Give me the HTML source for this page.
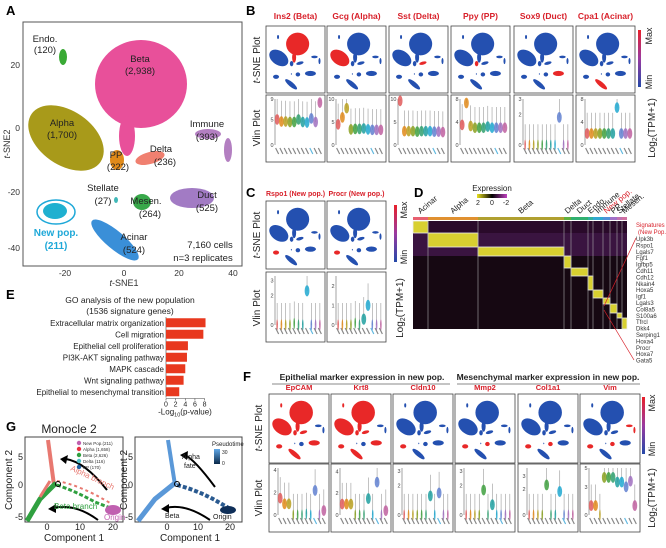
<!DOCTYPE html>
<html><head><meta charset="utf-8">
<style>
html,body{margin:0;padding:0;background:#fff;}
svg{display:block;font-family:"Liberation Sans",Arial,sans-serif;}
</style></head>
<body>
<svg id="fig" width="666" height="548" viewBox="0 0 666 548" xmlns="http://www.w3.org/2000/svg">
<defs>
<linearGradient id="cbar" x1="0" y1="1" x2="0" y2="0">
<stop offset="0" stop-color="#2448a8"/><stop offset="0.5" stop-color="#9a3aa0"/><stop offset="1" stop-color="#e8202a"/>
</linearGradient>
<linearGradient id="expr" x1="0" y1="0" x2="1" y2="0">
<stop offset="0" stop-color="#e8e020"/><stop offset="0.5" stop-color="#000"/><stop offset="1" stop-color="#c040c0"/>
</linearGradient>
<linearGradient id="ptime" x1="0" y1="1" x2="0" y2="0">
<stop offset="0" stop-color="#0a2848"/><stop offset="1" stop-color="#60a8e8"/>
</linearGradient>
</defs>

<g font-weight="bold" font-size="13" fill="#000">
<text x="6" y="15">A</text>
<text x="246" y="15">B</text>
<text x="246" y="197">C</text>
<text x="414" y="197">D</text>
<text x="6" y="299">E</text>
<text x="6" y="431">G</text>
<text x="243" y="381">F</text>
</g>

<g id="panelA">
<rect x="23" y="22" width="219" height="244" fill="none" stroke="#555" stroke-width="1"/>
<g id="aClusters"></g>
<g font-size="9.5" fill="#222" text-anchor="middle">
<text x="45" y="42">Endo.</text><text x="45" y="53">(120)</text>
<text x="140" y="62">Beta</text><text x="140" y="74">(2,938)</text>
<text x="62" y="126">Alpha</text><text x="62" y="138">(1,700)</text>
<text x="207" y="127">Immune</text><text x="207" y="140">(393)</text>
<text x="161" y="152">Delta</text><text x="165" y="165">(236)</text>
<text x="116" y="158">PP</text><text x="118" y="170">(222)</text>
<text x="103" y="191">Stellate</text><text x="103" y="204">(27)</text>
<text x="146" y="204">Mesen.</text><text x="150" y="217">(264)</text>
<text x="207" y="198">Duct</text><text x="207" y="211">(525)</text>
<text x="134" y="240">Acinar</text><text x="134" y="253">(524)</text>
<text x="210" y="248">7,160 cells</text><text x="203" y="261">n=3 replicates</text>
</g>
<ellipse cx="56" cy="212" rx="19" ry="12" fill="none" stroke="#1ea8d8" stroke-width="1.5"/>
<text x="56" y="236" font-size="10" font-weight="bold" fill="#1ea8d8" text-anchor="middle">New pop.</text>
<text x="56" y="249" font-size="10" font-weight="bold" fill="#1ea8d8" text-anchor="middle">(211)</text>
<g font-size="8.5" fill="#333" text-anchor="middle">
<text x="65" y="276">-20</text><text x="124" y="276">0</text><text x="179" y="276">20</text><text x="233" y="276">40</text>
</g>
<g font-size="8.5" fill="#333" text-anchor="end">
<text x="20" y="68">20</text><text x="20" y="131">0</text><text x="20" y="195">-20</text><text x="20" y="251">-40</text>
</g>
<text x="124" y="286" font-size="9" text-anchor="middle" fill="#333"><tspan font-style="italic">t</tspan>-SNE1</text>
<text transform="translate(10,144) rotate(-90)" font-size="9" text-anchor="middle" fill="#333"><tspan font-style="italic">t</tspan>-SNE2</text>
</g>

<g id="panelB"></g>
<g id="panelC"></g>
<g id="panelF"></g>

<g font-size="10" fill="#222" text-anchor="middle">
<text transform="translate(260,60) rotate(-90)"><tspan font-style="italic">t</tspan>-SNE Plot</text>
<text transform="translate(260,128) rotate(-90)">Vlin Plot</text>
<text transform="translate(260,235) rotate(-90)"><tspan font-style="italic">t</tspan>-SNE Plot</text>
<text transform="translate(260,308) rotate(-90)">Vlin Plot</text>
<text transform="translate(262,428) rotate(-90)"><tspan font-style="italic">t</tspan>-SNE Plot</text>
<text transform="translate(262,498) rotate(-90)">Vlin Plot</text>
<text transform="translate(655,128) rotate(-90)">Log<tspan font-size="7" dy="2">2</tspan><tspan dy="-2">(TPM+1)</tspan></text>
<text transform="translate(403,308) rotate(-90)">Log<tspan font-size="7" dy="2">2</tspan><tspan dy="-2">(TPM+1)</tspan></text>
<text transform="translate(655,498) rotate(-90)">Log<tspan font-size="7" dy="2">2</tspan><tspan dy="-2">(TPM+1)</tspan></text>
</g>
<g>
<rect x="638" y="30" width="3" height="57" fill="url(#cbar)"/>
<rect x="394" y="205" width="3" height="57" fill="url(#cbar)"/>
<rect x="642" y="397" width="3" height="57" fill="url(#cbar)"/>
<g font-size="9" fill="#222" text-anchor="middle">
<text transform="translate(652,36) rotate(-90)">Max</text><text transform="translate(652,82) rotate(-90)">Min</text>
<text transform="translate(407,210) rotate(-90)">Max</text><text transform="translate(407,257) rotate(-90)">Min</text>
<text transform="translate(655,403) rotate(-90)">Max</text><text transform="translate(655,449) rotate(-90)">Min</text>
</g>
</g>

<g id="panelD">
<text x="492" y="191" font-size="8" text-anchor="middle" fill="#222">Expression</text>
<rect x="477" y="194" width="30" height="4" fill="url(#expr)"/>
<g font-size="7" fill="#222" text-anchor="middle"><text x="478" y="205">2</text><text x="492" y="205">0</text><text x="506" y="205">-2</text></g>
<g id="dHeat"></g>
</g>

<g id="panelE">
<text x="130" y="303" font-size="8.5" text-anchor="middle" fill="#222">GO analysis of the new population</text>
<text x="130" y="314" font-size="8.5" text-anchor="middle" fill="#222">(1536 signature genes)</text>
<g id="eBars"></g>
</g>

<g id="panelG">
<text x="69" y="433" font-size="12" text-anchor="middle" fill="#222">Monocle 2</text>
<g transform="translate(0,13)">
<rect x="25" y="424" width="98" height="85" fill="none" stroke="#444"/>
<rect x="135" y="424" width="107" height="85" fill="none" stroke="#444"/>
<g id="gPlots"></g>
<text transform="translate(12,467) rotate(-90)" font-size="10" text-anchor="middle" fill="#222">Component 2</text>
<text transform="translate(127,467) rotate(-90)" font-size="10" text-anchor="middle" fill="#222">Component 2</text>
<text x="74" y="528" font-size="10" text-anchor="middle" fill="#222">Component 1</text>
<text x="190" y="528" font-size="10" text-anchor="middle" fill="#222">Component 1</text>
</g>
</g>
</svg>

<script>
var NS="http://www.w3.org/2000/svg";
function mk(tag,attrs,parent){var e=document.createElementNS(NS,tag);for(var k in attrs)e.setAttribute(k,attrs[k]);if(parent)parent.appendChild(e);return e;}

var clusterNames=["beta","betaTail","alpha","endo","immune1","immune2","delta","pp","mesen","duct","stellate","newpop","acinar"];
var clusterColors=["#e8509a","#e8509a","#a89a1a","#3aaa35","#b37fc1","#b37fc1","#f08070","#e08a1a","#38a84a","#a27bc4","#40b8b8","#1fb0d0","#3a8fd8"];
var clusterGeom=[[141,84,46,44,0],[127,136,8,20,0],[66,138,42,27,35],[63,57,4,8,0],[208,134,13,5,0],[228,150,4,12,0],[150,158,15,6,-15],[117,160,7,10,0],[142,202,9,8,0],[192,198,22,10,0],[116,200,2,3,0],[55,211,12,8,0],[115,240,30,9,40]];
var aArea={x:23,y:22,w:219,h:244};

function drawClusters(g,box,colorFn){
  var sx=box.w/aArea.w, sy=box.h/aArea.h;
  for(var i=0;i<clusterNames.length;i++){
    var c=clusterGeom[i];
    var cx=box.x+(c[0]-aArea.x)*sx, cy=box.y+(c[1]-aArea.y)*sy;
    var el=mk("ellipse",{cx:cx,cy:cy,rx:c[2]*sx,ry:c[3]*sy,fill:colorFn(i),transform:"rotate("+c[4]+" "+cx+" "+cy+")"},g);
    
    
  }
}
drawClusters(document.getElementById("aClusters"),aArea,function(i){return clusterColors[i];});

var violinColors=["#e05a5a","#e08a1a","#b8a020","#8aa020","#40a040","#30a070","#20a0a0","#20a8d0","#6080d0","#a070c0","#c060a0"];
var bGenes=["Ins2 (Beta)","Gcg (Alpha)","Sst (Delta)","Ppy (PP)","Sox9 (Duct)","Cpa1 (Acinar)"];
var bHighlight=[["beta","betaTail"],["alpha"],["delta"],["pp"],["duct"],["acinar"]];
var bMax=[9,10,10,8,3,8];
var bViolin=[[5,4.6,4.6,4.5,4.5,5,4.5,4.4,5.2,4.5,8.3],[4.5,6,8,3.4,3.5,3.5,3.6,3.4,3.3,3.3,3.3],[9.6,3,3,3,2.9,3,3,3,2.9,2.9,2.8],[3.5,7.3,3.3,3,3,3,3.2,3,3,3,3],[0,0,0,0,0,0,0,0,1.8,0,0],[2,2,2,2,2,2,2,6.5,2,2,2]];
var bBoxesX=[266,327,389,451,514,576];

var cGenes=["Rspo1 (New pop.)","Procr (New pop.)"];
var cMax=[3.3,2.5];
var cViolin=[[0,0,0,0,0.1,0,0,2.3,0,0,0],[0,0,0,0,0.1,0,0.3,1,0,0,0]];
var cBoxesX=[266,327];

var fGenes=["EpCAM","Krt8","Cldn10","Mmp2","Col1a1","Vim"];
var fHigh=[["beta","betaTail","alpha","endo","pp","delta","duct","newpop","acinar"],["beta","betaTail","alpha","endo","pp","delta","duct","newpop","acinar"],["newpop"],["newpop","mesen"],["newpop","mesen"],["newpop","mesen","immune1","immune2"]];
var fMax=[4.2,4.3,3.2,3.2,3.6,5];
var fViolin=[[1.5,1,1,0,0,0,0.1,0,2.2,0,0.4],[1,1,1,0,0,0,1.5,0,3,0,0.4],[0,0,0,0,0,0,1.3,0,1.5,0,0],[0,0,0,0,1.7,0,0.7,0,0,0,0],[0,0,0,0,2.3,0,0,1.8,0,0,0],[1,1,0,4,4,4,3.5,3.5,3,3.6,1]];
var fBoxesX=[269,331,393,455,518,580];

function markerPanel(parent,x,tsY,tsH,vY,vH,w,title,titleY,highlight,maxV,vals,titleSize){
  var t=mk("text",{x:x+w/2,y:titleY,"font-size":titleSize,"font-weight":"bold",fill:"#d8202a","text-anchor":"middle"},parent);
  t.textContent=title;
  
  
  var fr=mk("rect",{x:x,y:tsY,width:w,height:tsH,fill:"#fff",stroke:"#444","stroke-width":0.8},parent);
  
  
  var g=mk("g",{},parent);
  drawClusters(g,{x:x+2,y:tsY+2,w:w-4,h:tsH-4},function(i){return highlight.indexOf(clusterNames[i])>=0?"#e82828":"#2450b0";});
  var vr=mk("rect",{x:x,y:vY,width:w,height:vH,fill:"#fff",stroke:"#444","stroke-width":0.8},parent);
  
  
  var px0=x+9,px1=x+w-3,py0=vY+4,py1=vY+vH-17;
  mk("line",{x1:px0,y1:py0,x2:px0,y2:py1,stroke:"#666","stroke-width":0.6},parent);
  function yS(v){return py1-(v/maxV)*(py1-py0);}
  var ticks=[0,Math.round(maxV/2),Math.floor(maxV)];
  for(var k=0;k<ticks.length;k++){var tt=mk("text",{x:px0-1.5,y:yS(ticks[k])+2,"font-size":5.5,fill:"#444","text-anchor":"end"},parent);tt.textContent=ticks[k];}
  var n=vals.length,step=(px1-px0)/n;
  for(var i=0;i<n;i++){
    var cx=px0+step*(i+0.5),v=vals[i];
    mk("line",{x1:cx,y1:yS(v),x2:cx,y2:yS(Math.min(maxV,v+maxV*0.45)),stroke:"#999","stroke-width":0.6},parent);
    var el=mk("ellipse",{cx:cx,cy:yS(v),rx:v>0.05*maxV?2.4:0.8,ry:Math.max(1.5,vH*0.08),fill:violinColors[i],"fill-opacity":0.85},parent);
    
    
    mk("line",{x1:cx-1.5,y1:py1+3,x2:cx+1.5,y2:py1+9,stroke:i==8?"#60b8e0":"#888","stroke-width":1.2},parent);
  }
}
var pB=document.getElementById("panelB");
for(var i=0;i<bGenes.length;i++){
  markerPanel(pB,bBoxesX[i],26,67,95,67,59,bGenes[i],19,bHighlight[i],bMax[i],bViolin[i],8.5);
}
var pC=document.getElementById("panelC");
for(var i=0;i<cGenes.length;i++) markerPanel(pC,cBoxesX[i],201,68,272,70,59,cGenes[i],196,["newpop"],cMax[i],cViolin[i],7);
var pF=document.getElementById("panelF");
for(var i=0;i<fGenes.length;i++) markerPanel(pF,fBoxesX[i],394,69,464,68,60,fGenes[i],390,fHigh[i],fMax[i],fViolin[i],7.5);
(function(){
 var a=mk("text",{x:362,y:380,"font-size":8.5,"font-weight":"bold",fill:"#222","text-anchor":"middle"},pF);a.textContent="Epithelial marker expression in new pop.";
 var b=mk("text",{x:548,y:380,"font-size":8.5,"font-weight":"bold",fill:"#222","text-anchor":"middle"},pF);b.textContent="Mesenchymal marker expression in new pop.";
 mk("line",{x1:272,y1:384,x2:450,y2:384,stroke:"#888"},pF);mk("line",{x1:457,y1:384,x2:640,y2:384,stroke:"#888"},pF);
})();

var dGroups=["Acinar","Alpha","Beta","Delta","Duct","Endo.","Immune","New pop.","PP","Stellate","Mesen."];
var dGroupColors=["#e86070","#e09030","#b0a030","#60b040","#30b070","#30b0a0","#30a8d0","#5090d8","#a070c8","#c070b0","#d070a0"];
var dColEdges=[413,428,478,564,571,588,593,603,610,617,622,627];
var dRowEdges=[221,233,247,256,268,276,290,298,304,313,318,329];
var dGenes=["Upk3b","Rspo1","Lgals7","Fgf1","Igfbp5","Cdh11","Cdh12","Nkain4","Hoxa5","Igf1","Lgals3","Col8a5","S100a6","Tfrcl","Dkk4","Serping1","Hoxa4","Procr","Hoxa7","Gata5"];
(function(){
 var g=document.getElementById("dHeat");
 var bg=mk("rect",{x:413,y:221,width:214,height:108,fill:"#160812"},g);
 
 
 mk("rect",{x:413,y:221,width:214,height:12,fill:"#2a0a2a"},g);
 mk("rect",{x:413,y:233,width:214,height:23,fill:"#3a1440"},g);
 for(var i=0;i<dGroups.length;i++){
   var x0=dColEdges[i],x1=dColEdges[i+1];
   mk("rect",{x:x0,y:217,width:x1-x0,height:3,fill:dGroupColors[i]},g);
   var c=mk("rect",{x:x0,y:dRowEdges[i],width:x1-x0,height:dRowEdges[i+1]-dRowEdges[i],fill:"#d8d030",stroke:"#eee","stroke-width":0.8},g);
   
   
   if(i>0)mk("line",{x1:x0,y1:221,x2:x0,y2:329,stroke:"#aaa","stroke-width":0.6},g);
   var lx=(x0+x1)/2;
   var tl=mk("text",{x:lx,y:214,"font-size":8,fill:i==7?"#d8202a":"#222",transform:"rotate(-40 "+lx+" 214)"},g);
   tl.textContent=dGroups[i];
 }
 var s1=mk("text",{x:636,y:227,"font-size":6,fill:"#d8202a"},g);s1.textContent="Signatures";
 var s2=mk("text",{x:638,y:234,"font-size":6,fill:"#d8202a"},g);s2.textContent="(New Pop.)";
 for(var k=0;k<dGenes.length;k++){
   var y=241+k*6.4;
   var t=mk("text",{x:636,y:y,"font-size":6,fill:"#333"},g);t.textContent=dGenes[k];
 }
 mk("line",{x1:604,y1:306,x2:636,y2:238,stroke:"#d8202a","stroke-width":0.7},g);
 mk("line",{x1:604,y1:310,x2:634,y2:360,stroke:"#d8202a","stroke-width":0.7},g);
})();

var eTerms=["Extracellular matrix organization","Cell migration","Epithelial cell proliferation","PI3K-AKT signaling pathway","MAPK cascade","Wnt signaling pathway","Epithelial to mesenchymal transition"];
var eValues=[8.2,7.75,4.55,4.35,4.0,3.65,2.75];
var eTicks=[0,2,4,6,8];
(function(){
 var g=document.getElementById("eBars");
 var x0=166,xPer=4.82,yTop=317,rowH=11.5,barH=9;
 function xS(v){return x0+v*xPer;}
 mk("line",{x1:x0,y1:yTop,x2:x0,y2:yTop+rowH*eTerms.length,stroke:"#444","stroke-width":0.6},g);
 for(var i=0;i<eTerms.length;i++){
   var yc=yTop+rowH*(i+0.5);
   var b=mk("rect",{x:x0,y:yc-barH/2,width:xS(eValues[i])-x0,height:barH,fill:"#e8381e"},g);
   
   
   var t=mk("text",{x:x0-2,y:yc+3,"font-size":8,fill:"#222","text-anchor":"end"},g);t.textContent=eTerms[i];
 }
 var ay=yTop+rowH*eTerms.length+1;
 mk("line",{x1:x0,y1:ay,x2:xS(8),y2:ay,stroke:"#444","stroke-width":0.6},g);
 for(var k=0;k<eTicks.length;k++){
   mk("line",{x1:xS(eTicks[k]),y1:ay,x2:xS(eTicks[k]),y2:ay+2,stroke:"#444","stroke-width":0.6},g);
   var t=mk("text",{x:xS(eTicks[k]),y:ay+8,"font-size":7,fill:"#222","text-anchor":"middle"},g);t.textContent=eTicks[k];
 }
 var xl=mk("text",{x:185,y:ay+16,"font-size":8,fill:"#222","text-anchor":"middle"},g);
 var a1=mk("tspan",{},xl);a1.textContent="-Log";
 var a2=mk("tspan",{"font-size":5.5,dy:2},xl);a2.textContent="10";
 var a3=mk("tspan",{dy:-2},xl);a3.textContent="(p-value)";
 
 
})();

var gLegend=["New Pop.(211)","Alpha (1,658)","Beta (2,626)","Delta (116)","PP (170)"];
var gLegendColors=["#c060b0","#e83040","#30a040","#50c0c8","#2060a0"];
(function(){
 var g=document.getElementById("gPlots");
 function yTicks(x0){var tk=[["5",444],["0",472],["-5",504]];for(var i=0;i<3;i++){var t=mk("text",{x:x0-2,y:tk[i][1]+3,"font-size":9,fill:"#222","text-anchor":"end"},g);t.textContent=tk[i][0];}}
 yTicks(25);yTicks(135);
 var xt=[["0",47],["10",80],["20",113],["0",167],["10",198],["20",230]];
 for(var i=0;i<xt.length;i++){var t=mk("text",{x:xt[i][1],y:517,"font-size":9,fill:"#222","text-anchor":"middle"},g);t.textContent=xt[i][0];}
 mk("path",{d:"M48 427 L54 472",stroke:"#e87870","stroke-width":4,fill:"none"},g);
 mk("path",{d:"M27 508 L40 486 L56 470",stroke:"#30a040","stroke-width":5,fill:"none"},g);
 mk("path",{d:"M40 484 L50 468",stroke:"#e87870","stroke-width":3,fill:"none"},g);
 mk("path",{d:"M57 472 Q75 478 95 489 L118 498",stroke:"#30a040","stroke-width":3,fill:"none","stroke-dasharray":"4 2"},g);
 mk("path",{d:"M57 468 Q80 472 110 490",stroke:"#e87870","stroke-width":2,fill:"none","stroke-dasharray":"3 3"},g);
 mk("ellipse",{cx:113,cy:497,rx:8,ry:5,fill:"#c060b0"},g);
 mk("circle",{cx:58,cy:471,r:2.5,fill:"none",stroke:"#000"},g);
 mk("path",{d:"M107 477 Q85 449 66 446",stroke:"#000","stroke-width":2,fill:"none"},g);
 mk("path",{d:"M60 446 L68 442 L66 451 Z",fill:"#000"},g);
 mk("path",{d:"M98 507 Q75 490 53 495",stroke:"#000","stroke-width":2,fill:"none"},g);
 mk("path",{d:"M48 496 L56 491 L56 500 Z",fill:"#000"},g);
 var ab=mk("text",{x:70,y:457,"font-size":8,fill:"#e87870",transform:"rotate(25 70 457)"},g);ab.textContent="Alpha branch";
 var bb=mk("text",{x:54,y:496,"font-size":8,fill:"#30a040"},g);bb.textContent="Beta branch";
 var og=mk("text",{x:104,y:507,"font-size":8,fill:"#c060b0"},g);og.textContent="Origin";
 for(var i=0;i<gLegend.length;i++){
   mk("circle",{cx:79,cy:430+i*6,r:2.2,fill:gLegendColors[i]},g);
   var t=mk("text",{x:83,y:432+i*6,"font-size":4.5,fill:"#333"},g);t.textContent=gLegend[i];
   
   
 }
 mk("path",{d:"M168 427 L175 472",stroke:"#5a98d8","stroke-width":4,fill:"none"},g);
 mk("path",{d:"M138 508 L155 486 L175 470",stroke:"#5a98d8","stroke-width":5,fill:"none"},g);
 mk("path",{d:"M177 472 Q200 478 220 490 L232 497",stroke:"#2a5a90","stroke-width":4,fill:"none","stroke-dasharray":"4 2"},g);
 mk("ellipse",{cx:228,cy:497,rx:8,ry:4,fill:"#0e2e58"},g);
 mk("circle",{cx:177,cy:471,r:2.5,fill:"none",stroke:"#000"},g);
 mk("path",{d:"M215 474 Q195 447 185 442",stroke:"#000","stroke-width":2,fill:"none"},g);
 mk("path",{d:"M180 442 L188 438 L187 447 Z",fill:"#000"},g);
 mk("path",{d:"M210 507 Q185 490 166 495",stroke:"#000","stroke-width":2,fill:"none"},g);
 mk("path",{d:"M161 496 L169 491 L169 500 Z",fill:"#000"},g);
 var t1=mk("text",{x:182,y:446,"font-size":7,fill:"#222"},g);t1.textContent="Alpha";
 var t2=mk("text",{x:184,y:455,"font-size":7,fill:"#222"},g);t2.textContent="fate";
 var t3=mk("text",{x:165,y:505,"font-size":7,fill:"#222"},g);t3.textContent="Beta";
 var t4=mk("text",{x:213,y:506,"font-size":7,fill:"#222"},g);t4.textContent="Origin";
 var t5=mk("text",{x:212,y:433,"font-size":6,fill:"#222"},g);t5.textContent="Pseudotime";
 mk("rect",{x:214,y:436,width:6,height:15,fill:"url(#ptime)"},g);
 var t6=mk("text",{x:222,y:441,"font-size":5,fill:"#222"},g);t6.textContent="30";
 var t7=mk("text",{x:222,y:452,"font-size":5,fill:"#222"},g);t7.textContent="0";
})();
</script>
</body></html>
